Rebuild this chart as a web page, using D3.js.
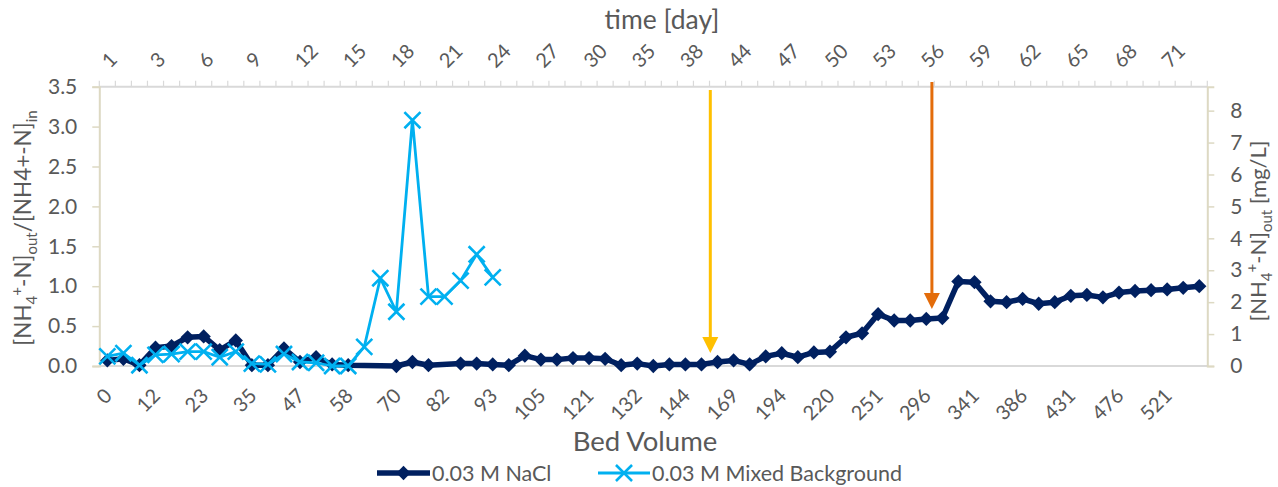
<!DOCTYPE html>
<html>
<head>
<meta charset="utf-8">
<script src="https://cdn.jsdelivr.net/npm/d3@7"></script>
<style>
  body { margin: 0; background: #fff; }
  text { font-family: Lato, "Open Sans", sans-serif; fill: #595959; }
</style>
</head>
<body>
<div id="chart"></div>
<script>
// bed volume tick labels (every 3rd category) and day tick labels (top axis)
var bvTicks = ["0","12","23","35","47","58","70","82","93","105","121","132","144","169","194","220","251","296","341","386","431","476","521"];
var dayTicks = ["1","3","6","9","12","15","18","21","24","27","30","35","38","44","47","50","53","56","59","62","65","68","71"];

// C/C0 values per category (null = no sample)
var nacl = [0.07,0.09,0.01,0.23,0.25,0.36,0.37,0.20,0.32,0.01,
            0.01,0.22,0.05,0.11,0.02,0.01,null,null,0.00,0.05,
            0.01,null,0.03,0.03,0.02,0.01,0.13,0.08,0.08,0.10,
            0.10,0.09,0.01,0.03,0.00,0.02,0.02,0.02,0.05,0.07,
            0.02,0.12,0.16,0.11,0.17,0.18,0.36,0.41,0.65,0.57,
            0.57,0.59,0.60,1.06,1.05,0.81,0.80,0.84,0.78,0.80,
            0.88,0.89,0.86,0.92,0.94,0.95,0.96,0.98,1.00];
var mixed = [0.12,0.16,0.01,0.14,0.15,0.18,0.18,0.11,0.18,0.03,
             0.02,0.15,0.05,0.04,0.00,0.00,0.24,1.10,0.68,3.08,
             0.87,0.87,1.07,1.40,1.11];

// arrows (category position) marking events
var arrows = [
  {cat: 37.55, top: 90, tip: 353, color: "#FFC000"},
  {cat: 51.35, top: 82, tip: 309, color: "#E36C0A"}
];

var leftTicks = [0,0.5,1,1.5,2,2.5,3,3.5];
var rightTicks = [0,1,2,3,4,5,6,7,8];

var W = 1278, H = 487;
var margin = {left: 99.3, right: W - 1207.3, top: 86.7, bottom: H - 366};

var nCat = nacl.length;
var x = d3.scaleBand().domain(d3.range(nCat)).range([margin.left, W - margin.right]).paddingInner(0).paddingOuter(0);
var cx = function(i) { return x(0) + x.bandwidth() * (i + 0.5); };
var y = d3.scaleLinear().domain([0, 3.5]).range([H - margin.bottom, margin.top]);
var y2 = d3.scaleLinear().domain([0, 8.75]).range([H - margin.bottom, margin.top]);

var svg = d3.select("#chart").append("svg")
  .attr("width", W).attr("height", H);

var axisGray = "#D9D9D9", axisTan = "#DDD9C3";

// top axis line + ticks at category boundaries
svg.append("line").attr("x1", margin.left).attr("x2", W - margin.right)
  .attr("y1", y(3.5)).attr("y2", y(3.5)).attr("stroke", axisGray).attr("stroke-width", 2);
svg.append("g").selectAll("line").data(d3.range(nCat + 1)).join("line")
  .attr("x1", function(d) { return x(0) + x.bandwidth() * d; })
  .attr("x2", function(d) { return x(0) + x.bandwidth() * d; })
  .attr("y1", y(3.5)).attr("y2", y(3.5) - 6)
  .attr("stroke", axisGray).attr("stroke-width", 1.2);

// bottom axis line
svg.append("line").attr("x1", margin.left).attr("x2", W - margin.right)
  .attr("y1", y(0)).attr("y2", y(0)).attr("stroke", axisGray).attr("stroke-width", 2);

// left axis
var gl = svg.append("g").attr("transform", "translate(" + margin.left + ",0)")
  .call(d3.axisLeft(y).tickValues(leftTicks).tickFormat(d3.format(".1f")).tickSize(7).tickPadding(15));
gl.select(".domain").attr("stroke", axisTan).attr("stroke-width", 2);
gl.selectAll(".tick line").attr("stroke", axisTan).attr("stroke-width", 1.5);
gl.selectAll(".tick text").style("font-size", "21px").attr("fill", "#595959");

// right axis
var gr = svg.append("g").attr("transform", "translate(" + (W - margin.right) + ",0)")
  .call(d3.axisRight(y2).tickValues(rightTicks).tickSize(7).tickPadding(16));
gr.select(".domain").attr("stroke", axisTan).attr("stroke-width", 2);
gr.selectAll(".tick line").attr("stroke", axisTan).attr("stroke-width", 1.5);
gr.selectAll(".tick text").style("font-size", "21px").attr("fill", "#595959");

// bottom tick labels
svg.append("g").selectAll("text").data(bvTicks).join("text")
  .attr("transform", function(d, k) { return "translate(" + (cx(k * 3) + 6) + "," + 397 + ") rotate(-45)"; })
  .attr("text-anchor", "end")
  .style("font-size", "20px")
  .text(function(d) { return d; });

// top tick labels
svg.append("g").selectAll("text").data(dayTicks).join("text")
  .attr("transform", function(d, k) { return "translate(" + (cx(k * 3) + 3) + "," + 69 + ") rotate(-45)"; })
  .attr("text-anchor", "start")
  .style("font-size", "20px")
  .text(function(d) { return d; });

// axis titles
svg.append("text").attr("x", 662).attr("y", 29).attr("text-anchor", "middle")
  .style("font-size", "26.5px").text("time [day]");
svg.append("text").attr("x", 645).attr("y", 451).attr("text-anchor", "middle")
  .style("font-size", "27.5px").text("Bed Volume");

var lt = svg.append("text").attr("transform", "translate(31,228) rotate(-90)")
  .attr("text-anchor", "middle").style("font-size", "22.5px");
lt.append("tspan").text("[NH");
lt.append("tspan").attr("dy", 6).style("font-size", "15px").text("4");
lt.append("tspan").attr("dy", -15).style("font-size", "15px").text("+");
lt.append("tspan").attr("dy", 9).text("-N]");
lt.append("tspan").attr("dy", 6).style("font-size", "15px").text("out");
lt.append("tspan").attr("dy", -6).text("/[NH4+-N]");
lt.append("tspan").attr("dy", 6).style("font-size", "15px").text("in");

var rt = svg.append("text").attr("transform", "translate(1266,231) rotate(-90)")
  .attr("text-anchor", "middle").style("font-size", "22px");
rt.append("tspan").text("[NH");
rt.append("tspan").attr("dy", 6).style("font-size", "15px").text("4");
rt.append("tspan").attr("dy", -15).style("font-size", "15px").text("+");
rt.append("tspan").attr("dy", 9).text("-N]");
rt.append("tspan").attr("dy", 6).style("font-size", "15px").text("out");
rt.append("tspan").attr("dy", -6).text(" [mg/L]");

// series
var naclColor = "#002060", mixedColor = "#00B0F0";
var naclPts = nacl.map(function(v, i) { return {i: i, v: v}; }).filter(function(d) { return d.v !== null; });
var mixedPts = mixed.map(function(v, i) { return {i: i, v: v}; });

var line = d3.line()
  .x(function(d) { return cx(d.i); })
  .y(function(d) { return y(d.v); });

svg.append("path").datum(naclPts).attr("d", line)
  .attr("fill", "none").attr("stroke", naclColor).attr("stroke-width", 5.5).attr("stroke-linejoin", "round");
var diamond = d3.symbol().type(d3.symbolDiamond2).size(130);
svg.append("g").selectAll("path").data(naclPts).join("path")
  .attr("d", diamond)
  .attr("transform", function(d) { return "translate(" + cx(d.i) + "," + y(d.v) + ")"; })
  .attr("fill", naclColor);

svg.append("path").datum(mixedPts).attr("d", line)
  .attr("fill", "none").attr("stroke", mixedColor).attr("stroke-width", 2.8).attr("stroke-linejoin", "round");
var cross = d3.symbol().type(d3.symbolX).size(170);
svg.append("g").selectAll("path").data(mixedPts).join("path")
  .attr("d", cross)
  .attr("transform", function(d) { return "translate(" + cx(d.i) + "," + y(d.v) + ")"; })
  .attr("fill", "none").attr("stroke", mixedColor).attr("stroke-width", 2.6);

// arrows
arrows.forEach(function(a) {
  var ax = cx(a.cat);
  svg.append("line").attr("x1", ax).attr("x2", ax).attr("y1", a.top).attr("y2", a.tip - 14)
    .attr("stroke", a.color).attr("stroke-width", 3);
  svg.append("path")
    .attr("d", "M" + (ax - 8) + "," + (a.tip - 16) + "L" + (ax + 8) + "," + (a.tip - 16) + "L" + ax + "," + a.tip + "Z")
    .attr("fill", a.color);
});

// legend
var lg = svg.append("g");
lg.append("line").attr("x1", 377).attr("x2", 430).attr("y1", 473).attr("y2", 473)
  .attr("stroke", naclColor).attr("stroke-width", 5.5);
lg.append("path").attr("d", diamond).attr("transform", "translate(403.5,473)").attr("fill", naclColor);
lg.append("text").attr("x", 432).attr("y", 481).style("font-size", "21.5px").text("0.03 M NaCl");
lg.append("line").attr("x1", 598).attr("x2", 650).attr("y1", 473).attr("y2", 473)
  .attr("stroke", mixedColor).attr("stroke-width", 2.8);
lg.append("path").attr("d", cross).attr("transform", "translate(624,473)")
  .attr("fill", "none").attr("stroke", mixedColor).attr("stroke-width", 2.6);
lg.append("text").attr("x", 652).attr("y", 481).style("font-size", "21.5px").text("0.03 M Mixed Background");
</script>
</body>
</html>
